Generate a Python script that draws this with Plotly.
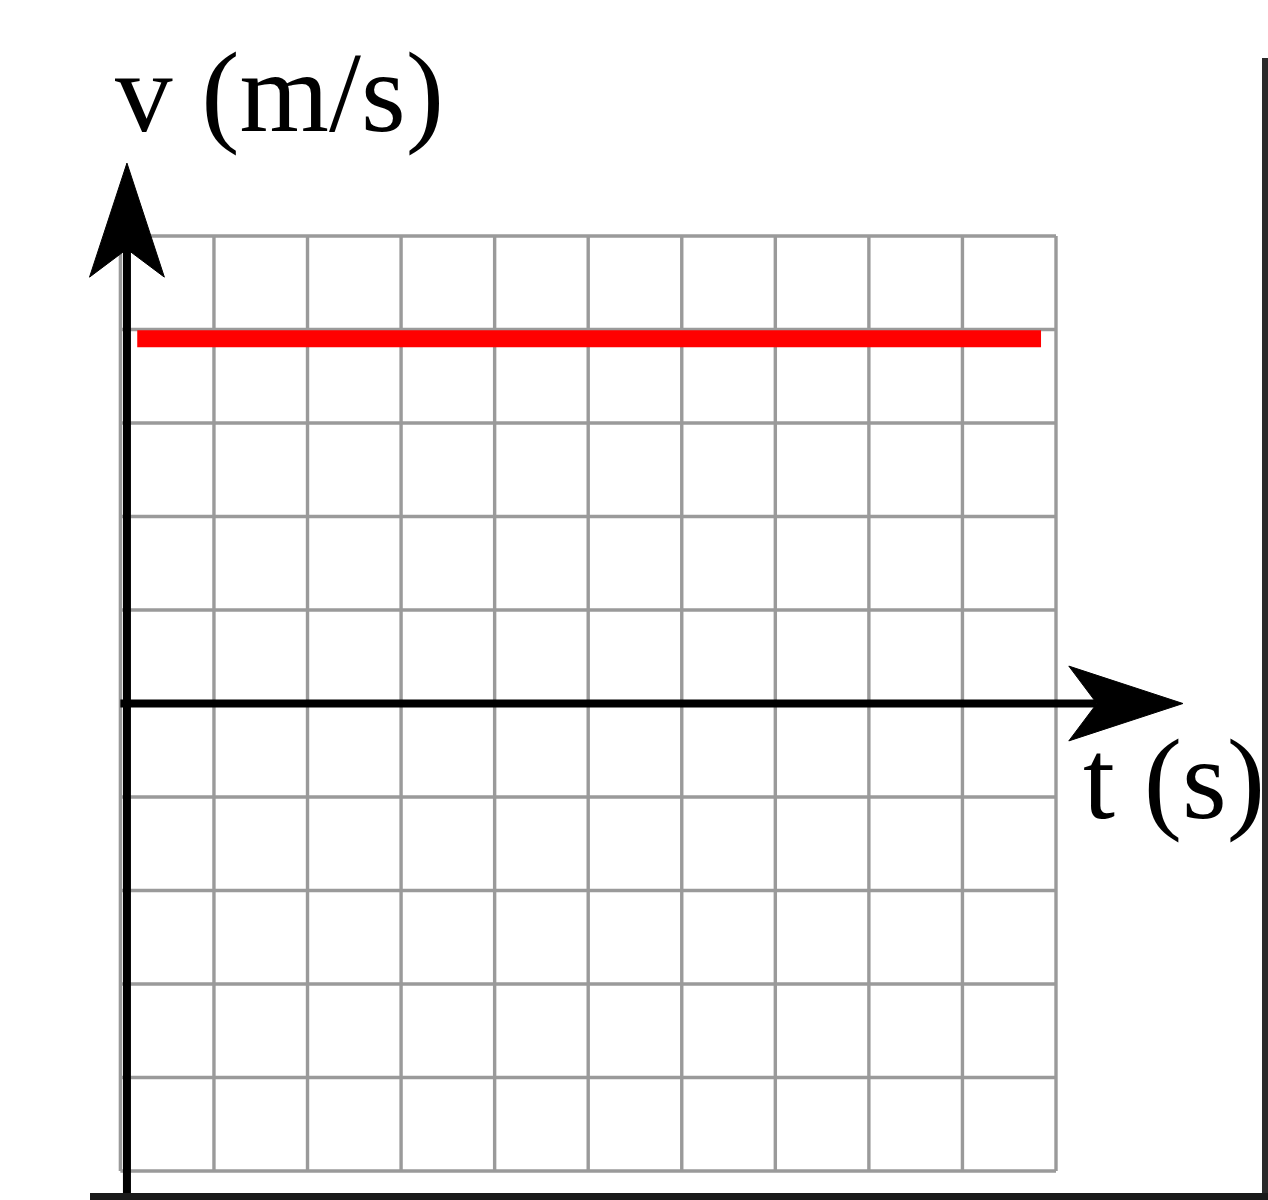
import plotly.graph_objects as go

# ---- data (grid units) ----
t_grid = [0, 1, 2, 3, 4, 5, 6, 7, 8, 9, 10]          # time gridlines (s)
v_grid = [-5, -4, -3, -2, -1, 0, 1, 2, 3, 4, 5]      # velocity gridlines (m/s)
t_line = [0.18, 9.84]                                 # constant-velocity segment
v_line = [3.9, 3.9]
x_label = "t (s)"
y_label = "v (m/s)"

# ---- geometry / style ----
W, H = 1268, 1200
X0PX, XUNIT = 120.4, 93.56
Y0PX, YUNIT = 703.5, 93.5
x_range = [(0 - X0PX) / XUNIT, (W - X0PX) / XUNIT]
y_range = [(Y0PX - H) / YUNIT, (Y0PX - 0) / YUNIT]

GRID_COLOR = "#9a9a9a"
AXIS_COLOR = "#000000"
FONT = "Liberation Serif"
FSIZE = 115

fig = go.Figure()

# grid lines built from tick arrays
gx, gy = [], []
for t in t_grid:
    gx += [t, t, None]
    gy += [v_grid[0], v_grid[-1], None]
for v in v_grid:
    gx += [t_grid[0], t_grid[-1], None]
    gy += [v, v, None]
fig.add_trace(go.Scatter(x=gx, y=gy, mode="lines",
                         line=dict(color=GRID_COLOR, width=3.4),
                         hoverinfo="skip", showlegend=False))

# red velocity line
fig.add_trace(go.Scatter(x=t_line, y=v_line, mode="lines",
                         line=dict(color="#ff0000", width=17),
                         showlegend=False))

# axes with arrowheads (decorations)
ax_t = 0.07          # y-axis position in t units
ay_v = 0.0           # x-axis position in v units
head_len, head_half, notch = 1.22, 0.40, 0.30
y_tip = 5.78
x_tip = 11.357
y_bottom = (Y0PX - 1196) / YUNIT

shapes = []
shapes.append(dict(type="line", xref="x", yref="y", x0=ax_t, x1=ax_t,
                   y0=y_bottom, y1=y_tip - head_len + notch,
                   line=dict(color=AXIS_COLOR, width=8)))
shapes.append(dict(type="line", xref="x", yref="y", x0=t_grid[0], x1=x_tip - head_len + notch,
                   y0=ay_v, y1=ay_v, line=dict(color=AXIS_COLOR, width=8)))
yb = y_tip - head_len
shapes.append(dict(type="path", xref="x", yref="y",
                   path=f"M{ax_t},{y_tip} L{ax_t + head_half},{yb} L{ax_t},{yb + notch} "
                        f"L{ax_t - head_half},{yb} Z",
                   fillcolor=AXIS_COLOR, line=dict(color=AXIS_COLOR, width=1)))
xb = x_tip - head_len
shapes.append(dict(type="path", xref="x", yref="y",
                   path=f"M{x_tip},{ay_v} L{xb},{ay_v + head_half} L{xb + notch},{ay_v} "
                        f"L{xb},{ay_v - head_half} Z",
                   fillcolor=AXIS_COLOR, line=dict(color=AXIS_COLOR, width=1)))
shapes.append(dict(type="line", xref="paper", yref="paper",
                   x0=1265 / W, x1=1265 / W, y0=0, y1=(H - 58) / H,
                   line=dict(color="#2a2a2a", width=6)))
shapes.append(dict(type="line", xref="paper", yref="paper",
                   x0=90 / W, x1=1, y0=(H - 1196.5) / H, y1=(H - 1196.5) / H,
                   line=dict(color="#1a1a1a", width=7)))

annotations = [
    dict(text=y_label, xref="paper", yref="paper", x=113 / W, y=(H - 92) / H,
         xanchor="left", yanchor="middle", showarrow=False,
         font=dict(family=FONT, size=FSIZE, color="#000000")),
    dict(text=x_label, xref="paper", yref="paper", x=1081 / W, y=(H - 779) / H,
         xanchor="left", yanchor="middle", showarrow=False,
         font=dict(family=FONT, size=FSIZE, color="#000000")),
]

fig.update_layout(
    width=W, height=H,
    margin=dict(l=0, r=0, t=0, b=0, pad=0),
    paper_bgcolor="#ffffff", plot_bgcolor="#ffffff",
    xaxis=dict(range=x_range, visible=False, fixedrange=True),
    yaxis=dict(range=y_range, visible=False, fixedrange=True),
    shapes=shapes, annotations=annotations,
    showlegend=False,
)

fig.write_html("out.html", config={"displayModeBar": False},
               post_script="document.body.style.margin='0';"
                           "document.documentElement.style.overflow='hidden';"
                           "document.body.style.overflow='hidden';")
